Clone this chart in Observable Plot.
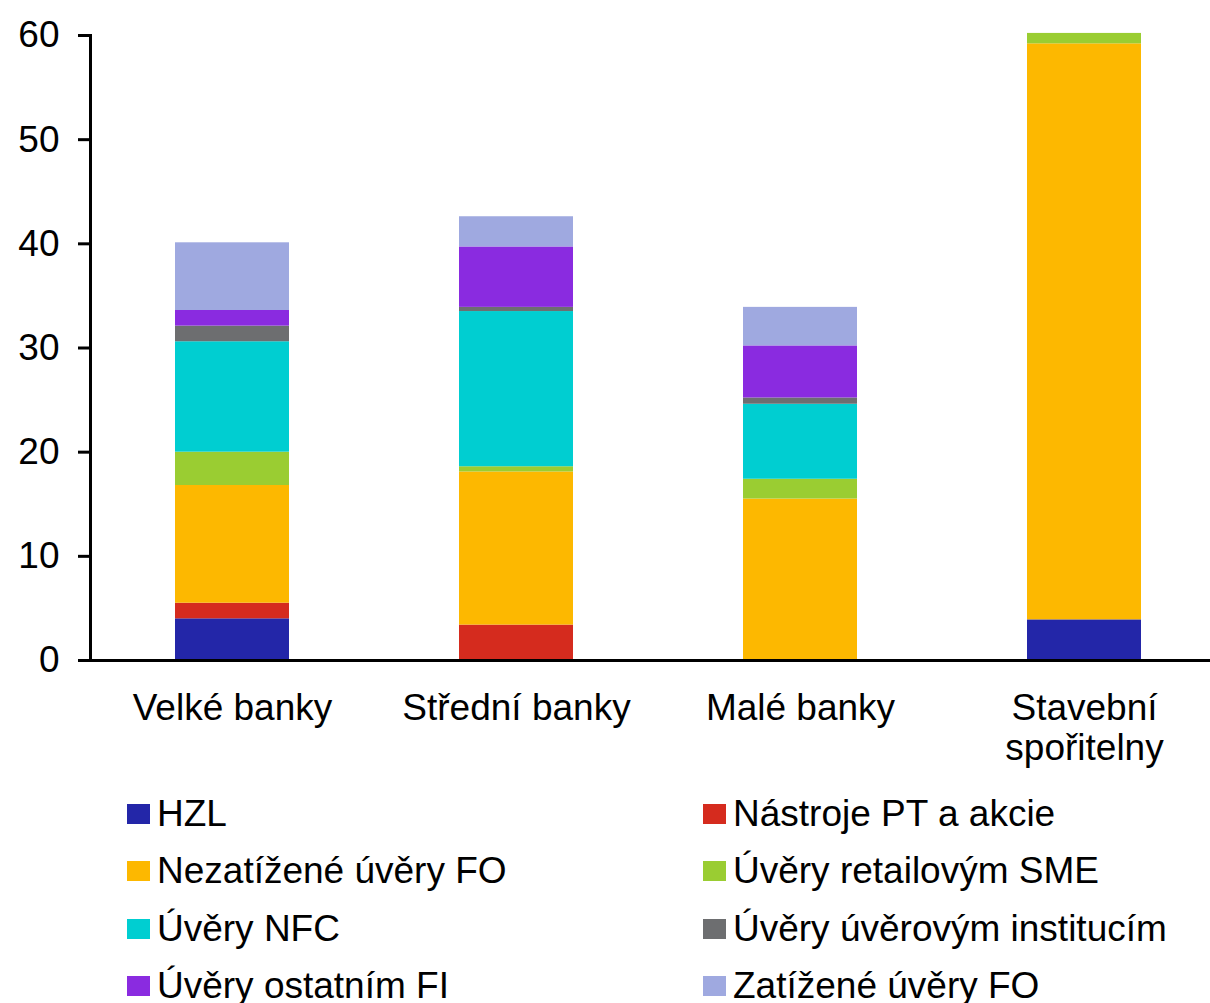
<!DOCTYPE html>
<html>
<head>
<meta charset="utf-8">
<script src="https://cdn.jsdelivr.net/npm/d3@7"></script>
<script src="https://cdn.jsdelivr.net/npm/@observablehq/plot@0.6"></script>
<style>
  html, body { margin: 0; padding: 0; background: #fff; }
  body { width: 1210px; height: 1003px; overflow: hidden; font-family: "Liberation Sans", Arial, sans-serif; }
  #legend { position: relative; width: 1210px; }
  .item { position: absolute; display: flex; align-items: center; height: 57px; font-size: 37px; color: #000; white-space: nowrap; }
  .sw { width: 23px; height: 20px; margin-right: 7px; flex: none; }
</style>
</head>
<body>
<div id="chart"></div>
<div id="legend"></div>
<script>
const categories = ["Velké banky", "Střední banky", "Malé banky", "Stavební\nspořitelny"];
const series = ["HZL", "Nástroje PT a akcie", "Nezatížené úvěry FO", "Úvěry retailovým SME", "Úvěry NFC", "Úvěry úvěrovým institucím", "Úvěry ostatním FI", "Zatížené úvěry FO"];
const colors = ["#2326A8", "#D52B1E", "#FDB800", "#9ACD32", "#00CED1", "#6D6E70", "#8A2BE0", "#9FA9E0"];
// values per series, in category order
const HZL        = [4.0, 0.0, 0.0, 3.9];
const PT         = [1.5, 3.4, 0.0, 0.0];
const NezatFO    = [11.3, 14.7, 15.5, 55.3];
const SME        = [3.2, 0.5, 1.9, 1.0];
const NFC        = [10.6, 14.9, 7.2, 0.0];
const Instituce  = [1.5, 0.4, 0.6, 0.0];
const OstatniFI  = [1.5, 5.8, 5.0, 0.0];
const ZatFO      = [6.5, 2.9, 3.7, 0.0];
const yTicks = [0, 10, 20, 30, 40, 50, 60];

const seriesValues = [HZL, PT, NezatFO, SME, NFC, Instituce, OstatniFI, ZatFO];
const data = [];
series.forEach((s, i) => categories.forEach((c, j) => data.push({category: c, series: s, value: seriesValues[i][j]})));

const W = 1210, H = 785;
const chart = Plot.plot({
  width: W,
  height: H,
  marginLeft: 90,
  marginRight: 0,
  marginTop: 35,
  marginBottom: 125,
  style: {fontFamily: '"Liberation Sans", Arial, sans-serif', fontSize: "37px", color: "#000", background: "#fff"},
  x: {domain: categories, range: [90, 1226], paddingInner: 0.6, paddingOuter: 0.3, label: null},
  y: {domain: [0, 60], label: null},
  color: {domain: series, range: colors},
  marks: [
    Plot.barY(data, {x: "category", y: "value", fill: "series", order: series}),
    Plot.axisY({ticks: yTicks, tickSize: 12, tickPadding: 19, fontSize: 37, strokeWidth: 3, label: null}),
    Plot.axisX({tickSize: 0, tickPadding: 31, fontSize: 37, lineHeight: 1.08, label: null}),
    Plot.frame({anchor: "left", strokeWidth: 3}),
    Plot.ruleY([0], {strokeWidth: 3})
  ]
});
document.getElementById("chart").appendChild(chart);

const legend = document.getElementById("legend");
series.forEach((s, i) => {
  const col = i % 2, row = Math.floor(i / 2);
  const item = document.createElement("div");
  item.className = "item";
  item.style.left = (col === 0 ? 127 : 703) + "px";
  item.style.top = (row * 57.5) + "px";
  const sw = document.createElement("span");
  sw.className = "sw";
  sw.style.background = colors[i];
  item.appendChild(sw);
  item.appendChild(document.createTextNode(s));
  legend.appendChild(item);
});
</script>
</body>
</html>
